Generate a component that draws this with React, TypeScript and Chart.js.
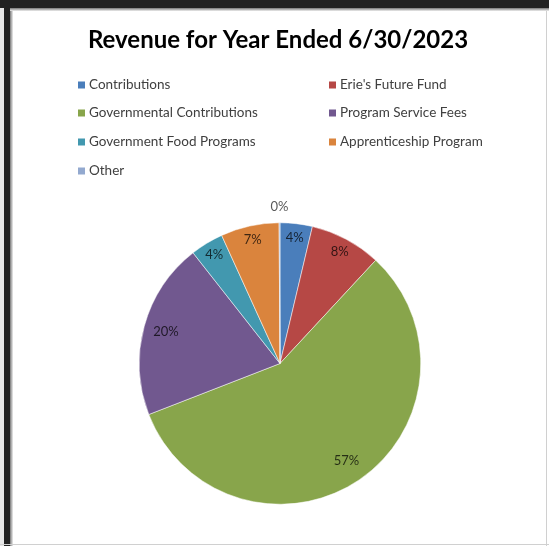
import React, { useEffect, useRef } from "react";
import { Chart, registerables } from "chart.js";

Chart.register(...registerables);

const titleText = "Revenue for Year Ended 6/30/2023";
const categories = [
  "Contributions",
  "Erie's Future Fund",
  "Governmental Contributions",
  "Program Service Fees",
  "Government Food Programs",
  "Apprenticeship Program",
  "Other",
];
const revenueShare = [3.7, 8.2, 57.2, 20.3, 3.8, 6.7, 0.1];
const sliceColors = ["#4A7EBB", "#B64845", "#88A54B", "#71588F", "#4298AF", "#DA843D", "#93A9CF"];

const W = 549;
const H = 546;

const overlayPlugin = {
  id: "overlay",
  afterDraw(chart: any) {
    const ctx = chart.ctx as CanvasRenderingContext2D;
    ctx.save();
    // title
    ctx.fillStyle = "#000000";
    ctx.font = "bold 24px Lato";
    ctx.textAlign = "center";
    ctx.textBaseline = "alphabetic";
    ctx.fillText(titleText, 278, 48);

    // legend in two columns
    const colX = [78, 329];
    const rowY = [85, 113, 142, 171];
    ctx.font = "13.5px Lato";
    ctx.textAlign = "left";
    ctx.textBaseline = "middle";
    categories.forEach((label, i) => {
      const col = i % 2;
      const row = Math.floor(i / 2);
      const x = colX[col];
      const y = rowY[row];
      ctx.fillStyle = sliceColors[i];
      ctx.fillRect(x, y - 3.5, 7, 7);
      ctx.fillStyle = "#404040";
      ctx.fillText(label, x + 11, y);
    });

    // data labels
    const meta = chart.getDatasetMeta(0);
    const data = chart.data.datasets[0].data as number[];
    const total = data.reduce((a, b) => a + b, 0);
    ctx.font = "13px Lato";
    ctx.textAlign = "center";
    meta.data.forEach((arc: any, i: number) => {
      const p = (data[i] / total) * 100;
      const mid = (arc.startAngle + arc.endAngle) / 2;
      let r: number;
      if (p < 1) {
        r = arc.outerRadius + 16;
        ctx.fillStyle = "#595959";
      } else {
        r = arc.outerRadius * (p < 10 ? 0.9 : 0.84);
        ctx.fillStyle = "rgba(0,0,0,0.72)";
      }
      const x = arc.x + Math.cos(mid) * r;
      const y = arc.y + Math.sin(mid) * r;
      ctx.fillText(Math.round(p) + "%", x, y);
    });
    ctx.restore();
  },
};

export default function App() {
  const canvasRef = useRef<HTMLCanvasElement | null>(null);

  useEffect(() => {
    if (!canvasRef.current) return;
    const chart = new Chart(canvasRef.current, {
      type: "pie",
      data: {
        labels: categories,
        datasets: [
          {
            data: revenueShare,
            backgroundColor: sliceColors,
            borderColor: "#ffffff",
            borderWidth: 0.5,
          },
        ],
      },
      options: {
        animation: false,
        responsive: false,
        maintainAspectRatio: false,
        layout: { padding: { top: 221, bottom: 40, left: 139, right: 128 } },
        plugins: {
          legend: { display: false },
          title: { display: false },
          tooltip: { enabled: false },
        },
      },
      plugins: [overlayPlugin],
    });
    return () => chart.destroy();
  }, []);

  return (
    <div
      style={{
        position: "fixed",
        left: 0,
        top: 0,
        width: W,
        height: H,
        background: "#ffffff",
        overflow: "hidden",
      }}
    >
      <canvas ref={canvasRef} width={W} height={H} style={{ position: "absolute", left: 0, top: 0, width: W, height: H }} />
      <div style={{ position: "absolute", left: 0, top: 0, width: W, height: 8, background: "#222222" }} />
      <div style={{ position: "absolute", left: 0, top: 8, width: W, height: 3, background: "linear-gradient(#777, #eee)" }} />
      <div style={{ position: "absolute", left: 0, top: 8, width: 4, height: H, background: "#e8e8e8" }} />
      <div style={{ position: "absolute", left: 4, top: 8, width: 6, height: H, background: "#222222" }} />
      <div style={{ position: "absolute", left: 10, top: 11, width: 3, height: H, background: "linear-gradient(to right, #777, #eee)" }} />
      <div style={{ position: "absolute", left: 546, top: 11, width: 1, height: H, background: "#d0d0d0" }} />
      <div style={{ position: "absolute", left: 0, top: 544, width: W, height: 1, background: "#d0d0d0" }} />
    </div>
  );
}
